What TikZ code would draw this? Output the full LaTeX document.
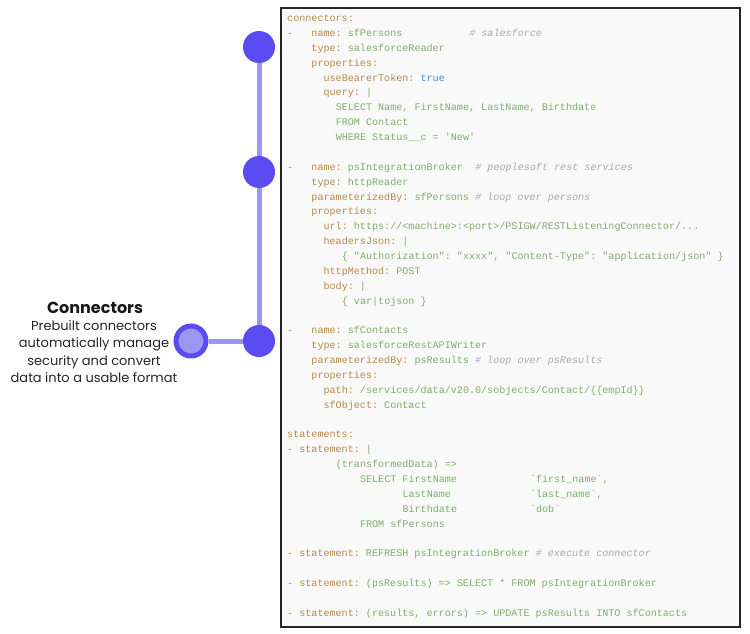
\documentclass[tikz,border=0pt]{standalone}
\usepackage{fontspec}
\setmainfont{Poppins}
\newfontfamily\code[Ligatures=ResetAll]{Liberation Mono}
\definecolor{kc}{HTML}{B58A4C}
\definecolor{vc}{HTML}{7FAE6E}
\definecolor{cc}{HTML}{AAAAAA}
\definecolor{tc}{HTML}{3D8FCE}
\definecolor{dotc}{HTML}{5A4BF2}
\definecolor{linec}{HTML}{9C96F2}
\definecolor{boxbg}{HTML}{F9F9F9}
\newcommand\K[1]{\textcolor{kc}{#1}}
\newcommand\V[1]{\textcolor{vc}{#1}}
\newcommand\C[1]{\textcolor{cc}{\itshape #1}}
\newcommand\T[1]{\textcolor{tc}{#1}}
\newcommand\q{\symbol{34}}
\newcommand\ap{\symbol{39}}
\newcommand\bt{\symbol{96}}
\newcommand\pipe{\symbol{124}}
\tikzset{
  codeline/.style={anchor=base west, inner sep=0pt, font=\code\fontsize{10.1}{12}\selectfont\frenchspacing},
  dot/.style={circle, fill=dotc, minimum size=32pt, inner sep=0pt},
  hubdot/.style={circle, fill=linec, draw=dotc, line width=5pt, minimum size=30pt, inner sep=0pt},
  link/.style={linec, line width=5pt},
  codebox/.style={draw=black!85, line width=2pt, fill=boxbg}
}
\newcommand\Ln[3]{\node[codeline] at ({287+#1*6.07},{18+(#2-1)*14.87+3.6}) {#3};}
\begin{document}
\begin{tikzpicture}[x=1pt,y=-1pt]
\useasboundingbox (0,0) rectangle (750,634);
\draw[codebox] (281,8) rectangle (740,627);
% timeline
\coordinate (c1) at (259,47);
\coordinate (c2) at (259,172);
\coordinate (c3) at (259,341);
\node[hubdot] (hub) at (191,341) {};
\draw[link] (c1) -- (c2) -- (c3);
\draw[link] (hub.east) -- (c3);
\node[dot] (d1) at (c1) {};
\node[dot] (d2) at (c2) {};
\node[dot] (d3) at (c3) {};
% label
\node[font=\fontsize{16}{19}\selectfont\bfseries, text=black!90] (lt) at (95,308) {Connectors};
\node[align=center, font=\fontsize{13}{17.3}\selectfont, anchor=north, text=black!85] (ld) at (94,317)
  {Prebuilt connectors\\automatically manage\\security and convert\\data into a usable format};
% code
\Ln{0}{1}{\K{connectors:}}
\Ln{0}{2}{\K{-}}
\Ln{4}{2}{\K{name:} \V{sfPersons}}
\Ln{30}{2}{\C{\# salesforce}}
\Ln{4}{3}{\K{type:} \V{salesforceReader}}
\Ln{4}{4}{\K{properties:}}
\Ln{6}{5}{\K{useBearerToken:} \T{true}}
\Ln{6}{6}{\K{query:} \V{\pipe}}
\Ln{8}{7}{\V{SELECT Name, FirstName, LastName, Birthdate}}
\Ln{8}{8}{\V{FROM Contact}}
\Ln{8}{9}{\V{WHERE Status\_\_c = \ap New\ap}}
\Ln{0}{11}{\K{-}}
\Ln{4}{11}{\K{name:} \V{psIntegrationBroker}}
\Ln{31}{11}{\C{\# peoplesoft rest services}}
\Ln{4}{12}{\K{type:} \V{httpReader}}
\Ln{4}{13}{\K{parameterizedBy:} \V{sfPersons} \C{\# loop over persons}}
\Ln{4}{14}{\K{properties:}}
\Ln{6}{15}{\K{url:} \V{https://<machine>:<port>/PSIGW/RESTListeningConnector/...}}
\Ln{6}{16}{\K{headersJson:} \V{\pipe}}
\Ln{9}{17}{\V{\{ \q Authorization\q: \q xxxx\q, \q Content-Type\q: \q application/json\q\ \}}}
\Ln{6}{18}{\K{httpMethod:} \V{POST}}
\Ln{6}{19}{\K{body:} \V{\pipe}}
\Ln{9}{20}{\V{\{ var\pipe tojson \}}}
\Ln{0}{22}{\K{-}}
\Ln{4}{22}{\K{name:} \V{sfContacts}}
\Ln{4}{23}{\K{type:} \V{salesforceRestAPIWriter}}
\Ln{4}{24}{\K{parameterizedBy:} \V{psResults} \C{\# loop over psResults}}
\Ln{4}{25}{\K{properties:}}
\Ln{6}{26}{\K{path:} \V{/services/data/v20.0/sobjects/Contact/\{\{empId\}\}}}
\Ln{6}{27}{\K{sfObject:} \V{Contact}}
\Ln{0}{29}{\K{statements:}}
\Ln{0}{30}{\K{- statement:} \V{\pipe}}
\Ln{8}{31}{\V{(transformedData) =>}}
\Ln{12}{32}{\V{SELECT FirstName}}
\Ln{40}{32}{\V{\bt first\_name\bt,}}
\Ln{19}{33}{\V{LastName}}
\Ln{40}{33}{\V{\bt last\_name\bt,}}
\Ln{19}{34}{\V{Birthdate}}
\Ln{40}{34}{\V{\bt dob\bt}}
\Ln{12}{35}{\V{FROM sfPersons}}
\Ln{0}{37}{\K{- statement:} \V{REFRESH psIntegrationBroker} \C{\# execute connector}}
\Ln{0}{39}{\K{- statement:} \V{(psResults) => SELECT * FROM psIntegrationBroker}}
\Ln{0}{41}{\K{- statement:} \V{(results, errors) => UPDATE psResults INTO sfContacts}}
\end{tikzpicture}
\end{document}
